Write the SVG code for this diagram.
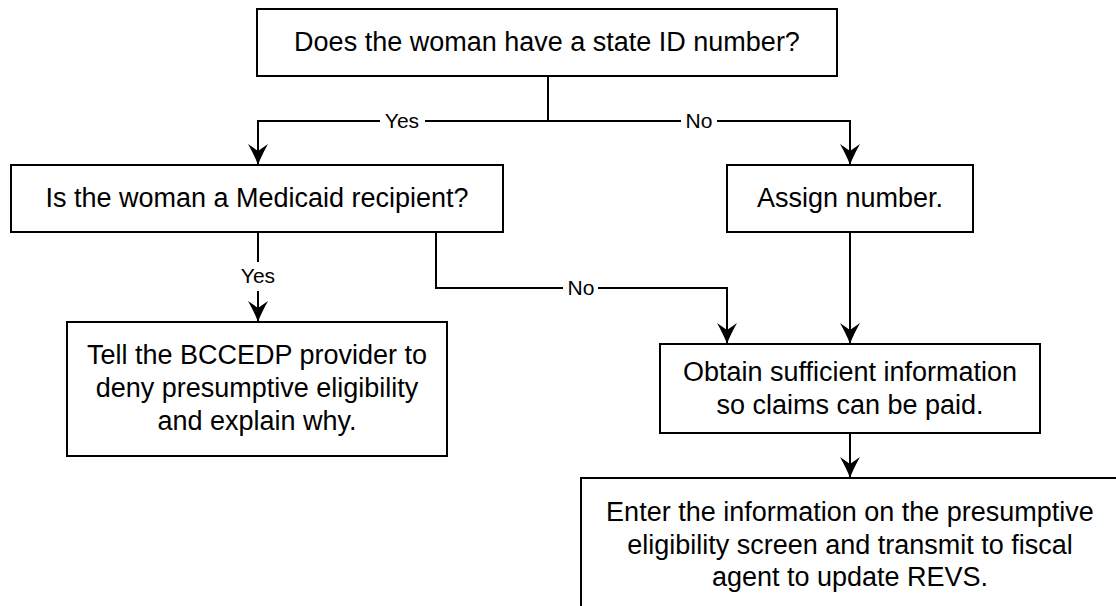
<svg xmlns="http://www.w3.org/2000/svg" width="1116" height="606" viewBox="0 0 1116 606">
<style>
.box{fill:#fff;stroke:#000;stroke-width:2}
.t{font-family:"Liberation Sans",Arial,sans-serif;font-size:27px;text-anchor:middle;fill:#000}
.l{font-family:"Liberation Sans",Arial,sans-serif;font-size:21px;text-anchor:middle;fill:#000}
.c{fill:none;stroke:#000;stroke-width:2}
</style>
<defs>
<marker id="arr" markerUnits="userSpaceOnUse" viewBox="-22 -11 23 22" refX="0" refY="0" markerWidth="23" markerHeight="22" orient="auto">
<path d="M0,0 C-6,-2 -14,-6 -21,-10 L-14,0 L-21,10 C-14,6 -6,2 0,0 Z" fill="#000"/>
</marker>
</defs>
<rect width="1116" height="606" fill="#fff"/>
<g id="connectors">
<path class="c" d="M548,76 V121"/>
<path class="c" d="M548,121 H425 M380,121 H258 V165" marker-end="url(#arr)"/>
<path class="c" d="M548,121 H681 M717,121 H850 V165" marker-end="url(#arr)"/>
<path class="c" d="M258,232 V262 M258,291 V322" marker-end="url(#arr)"/>
<path class="c" d="M436,232 V288 H563 M598,288 H727 V344" marker-end="url(#arr)"/>
<path class="c" d="M850,232 V344" marker-end="url(#arr)"/>
<path class="c" d="M850,433 V478" marker-end="url(#arr)"/>
<text class="l" x="402" y="128">Yes</text>
<text class="l" x="699" y="128">No</text>
<text class="l" x="258" y="283">Yes</text>
<text class="l" x="581" y="295">No</text>
</g>
<g id="q1">
<rect class="box" x="257" y="9" width="580" height="67"/>
<text class="t" x="547" y="51">Does the woman have a state ID number?</text>
</g>
<g id="q2">
<rect class="box" x="11" y="165" width="492" height="67"/>
<text class="t" x="257" y="207">Is the woman a Medicaid recipient?</text>
</g>
<g id="assign">
<rect class="box" x="727" y="165" width="246" height="67"/>
<text class="t" x="850" y="207">Assign number.</text>
</g>
<g id="deny">
<rect class="box" x="67" y="322" width="380" height="134"/>
<text class="t" x="257" y="364">Tell the BCCEDP provider to</text>
<text class="t" x="257" y="397">deny presumptive eligibility</text>
<text class="t" x="257" y="430">and explain why.</text>
</g>
<g id="obtain">
<rect class="box" x="660" y="344" width="380" height="89"/>
<text class="t" x="850" y="381">Obtain sufficient information</text>
<text class="t" x="850" y="414">so claims can be paid.</text>
</g>
<g id="enter">
<rect class="box" x="581" y="478" width="540" height="140"/>
<text class="t" x="850" y="521">Enter the information on the presumptive</text>
<text class="t" x="850" y="553.5">eligibility screen and transmit to fiscal</text>
<text class="t" x="850" y="586">agent to update REVS.</text>
</g>
</svg>
